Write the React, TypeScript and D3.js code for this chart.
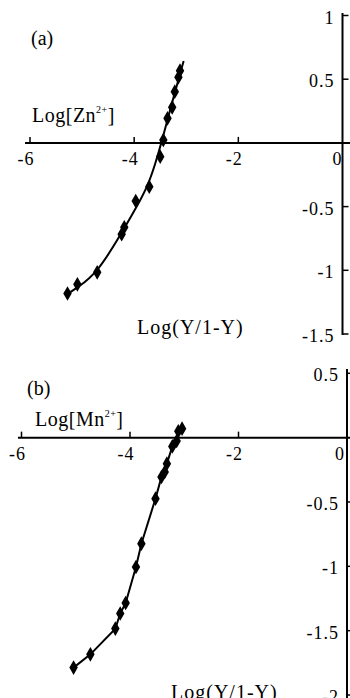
import * as d3 from "d3";

// panel (a): Zn2+
const znX = [-3.12, -3.15, -3.22, -3.27, -3.36, -3.44, -3.5, -3.71, -3.97, -4.19, -4.24, -4.71, -5.09, -5.28];
const znY = [0.567, 0.515, 0.402, 0.279, 0.193, 0.023, -0.108, -0.344, -0.456, -0.662, -0.717, -1.016, -1.11, -1.182];
// fitted curve
const znFitX = [-5.31, -5.1, -4.71, -4.25, -3.93, -3.74, -3.6, -3.45, -3.26, -3.05];
const znFitY = [-1.194, -1.139, -1.022, -0.714, -0.487, -0.338, -0.173, 0.039, 0.337, 0.643];

// panel (b): Mn2+
const mnX = [-3.04, -3.11, -3.14, -3.22, -3.32, -3.36, -3.42, -3.53, -3.79, -3.89, -4.08, -4.18, -4.27, -4.73, -5.04];
const mnY = [0.07, 0.049, -0.026, -0.068, -0.202, -0.267, -0.306, -0.474, -0.824, -1.005, -1.285, -1.367, -1.484, -1.684, -1.787];

const xTicks = [-6, -4, -2, 0];
const yTicksA = [1, 0.5, -0.5, -1, -1.5];
const yTicksB = [0.5, -0.5, -1, -1.5, -2];

const FONT = "Liberation Serif";

type Pt = [number, number];

interface PanelProps {
  xs: number[];
  ys: number[];
  fitX?: number[];
  fitY?: number[];
  yDomain: [number, number];
  yTicks: number[];
  xRange: [number, number];
  yRange: [number, number];
  xAxisExtent: [number, number];
  yAxisExtent: [number, number];
  zeroShift: number;
  tag: string;
  tagPos: Pt;
  ion: string;
  ionPos: Pt;
  titlePos: Pt;
  smooth: boolean;
}

function Panel(p: PanelProps) {
  const x = d3.scaleLinear().domain([-6, 0]).range(p.xRange);
  const y = d3.scaleLinear().domain(p.yDomain).range(p.yRange);
  const x0 = x(0);
  const y0 = y(0);

  const pts: Pt[] = p.xs.map((v, i) => [v, p.ys[i]]);
  const linePts: Pt[] = p.fitX && p.fitY ? p.fitX.map((v, i) => [v, p.fitY![i]]) : [...pts].sort((a, b) => a[0] - b[0]);
  const line = d3
    .line<Pt>()
    .x((d) => x(d[0]))
    .y((d) => y(d[1]))
    .curve(p.smooth ? d3.curveBasis : d3.curveLinear);

  const diamond = d3.symbol(d3.symbolDiamond, 62)();

  return (
    <g fontFamily={FONT} fill="#000">
      {/* x axis */}
      <line x1={p.xAxisExtent[0]} x2={p.xAxisExtent[1]} y1={y0} y2={y0} stroke="#000" strokeWidth={2} />
      {xTicks.map((t) => (
        <g key={"xt" + t}>
          {t !== 0 && <line x1={x(t)} x2={x(t)} y1={y0} y2={y0 - 6} stroke="#000" strokeWidth={1.5} />}
          <text x={x(t) - (t === 0 ? p.zeroShift : 4)} y={y0 + 22} fontSize={18} textAnchor="middle" letterSpacing={1}>
            {t}
          </text>
        </g>
      ))}
      {/* y axis */}
      <line x1={x0} x2={x0} y1={p.yAxisExtent[0]} y2={p.yAxisExtent[1]} stroke="#000" strokeWidth={2} />
      {p.yTicks.map((t) => (
        <g key={"yt" + t}>
          <line x1={x0} x2={x0 + 6} y1={y(t)} y2={y(t)} stroke="#000" strokeWidth={1.5} />
          <text x={x0 - 8} y={y(t) + 8} fontSize={18} textAnchor="end" letterSpacing={1}>
            {t}
          </text>
        </g>
      ))}
      {/* labels */}
      <text x={p.tagPos[0]} y={p.tagPos[1]} fontSize={20}>
        {p.tag}
      </text>
      <text x={p.ionPos[0]} y={p.ionPos[1]} fontSize={20} letterSpacing={0.5}>
        {"Log[" + p.ion}
        <tspan dy={-9} fontSize={10}>
          2+
        </tspan>
        <tspan dy={9}>]</tspan>
      </text>
      <text x={p.titlePos[0]} y={p.titlePos[1]} fontSize={20} letterSpacing={1}>
        Log(Y/1-Y)
      </text>
      {/* curve */}
      <path d={line(linePts) ?? ""} fill="none" stroke="#000" strokeWidth={2} />
      {pts.map((d, i) => (
        <path key={i} d={diamond ?? ""} transform={`translate(${x(d[0])},${y(d[1])})`} fill="#000" />
      ))}
    </g>
  );
}

export default function App() {
  return (
    <svg width={350} height={698} style={{ position: "absolute", left: 0, top: 0, background: "#fff" }}>
      <rect width={350} height={698} fill="#fff" />
      <Panel
        xs={znX}
        ys={znY}
        fitX={znFitX}
        fitY={znFitY}
        yDomain={[-1.5, 1]}
        yTicks={yTicksA}
        xRange={[30, 342.5]}
        yRange={[334, 15.5]}
        xAxisExtent={[25, 350]}
        yAxisExtent={[13, 335]}
        zeroShift={5}
        tag="(a)"
        tagPos={[31, 45]}
        ion="Zn"
        ionPos={[32, 122]}
        titlePos={[137, 334]}
        smooth={true}
      />
      <Panel
        xs={mnX}
        ys={mnY}
        yDomain={[-2, 0.5]}
        yTicks={yTicksB}
        xRange={[21.5, 347]}
        yRange={[695, 373.3]}
        xAxisExtent={[18, 350]}
        yAxisExtent={[369, 698]}
        zeroShift={7}
        tag="(b)"
        tagPos={[27, 395]}
        ion="Mn"
        ionPos={[35, 426]}
        titlePos={[171, 699]}
        smooth={false}
      />
    </svg>
  );
}
